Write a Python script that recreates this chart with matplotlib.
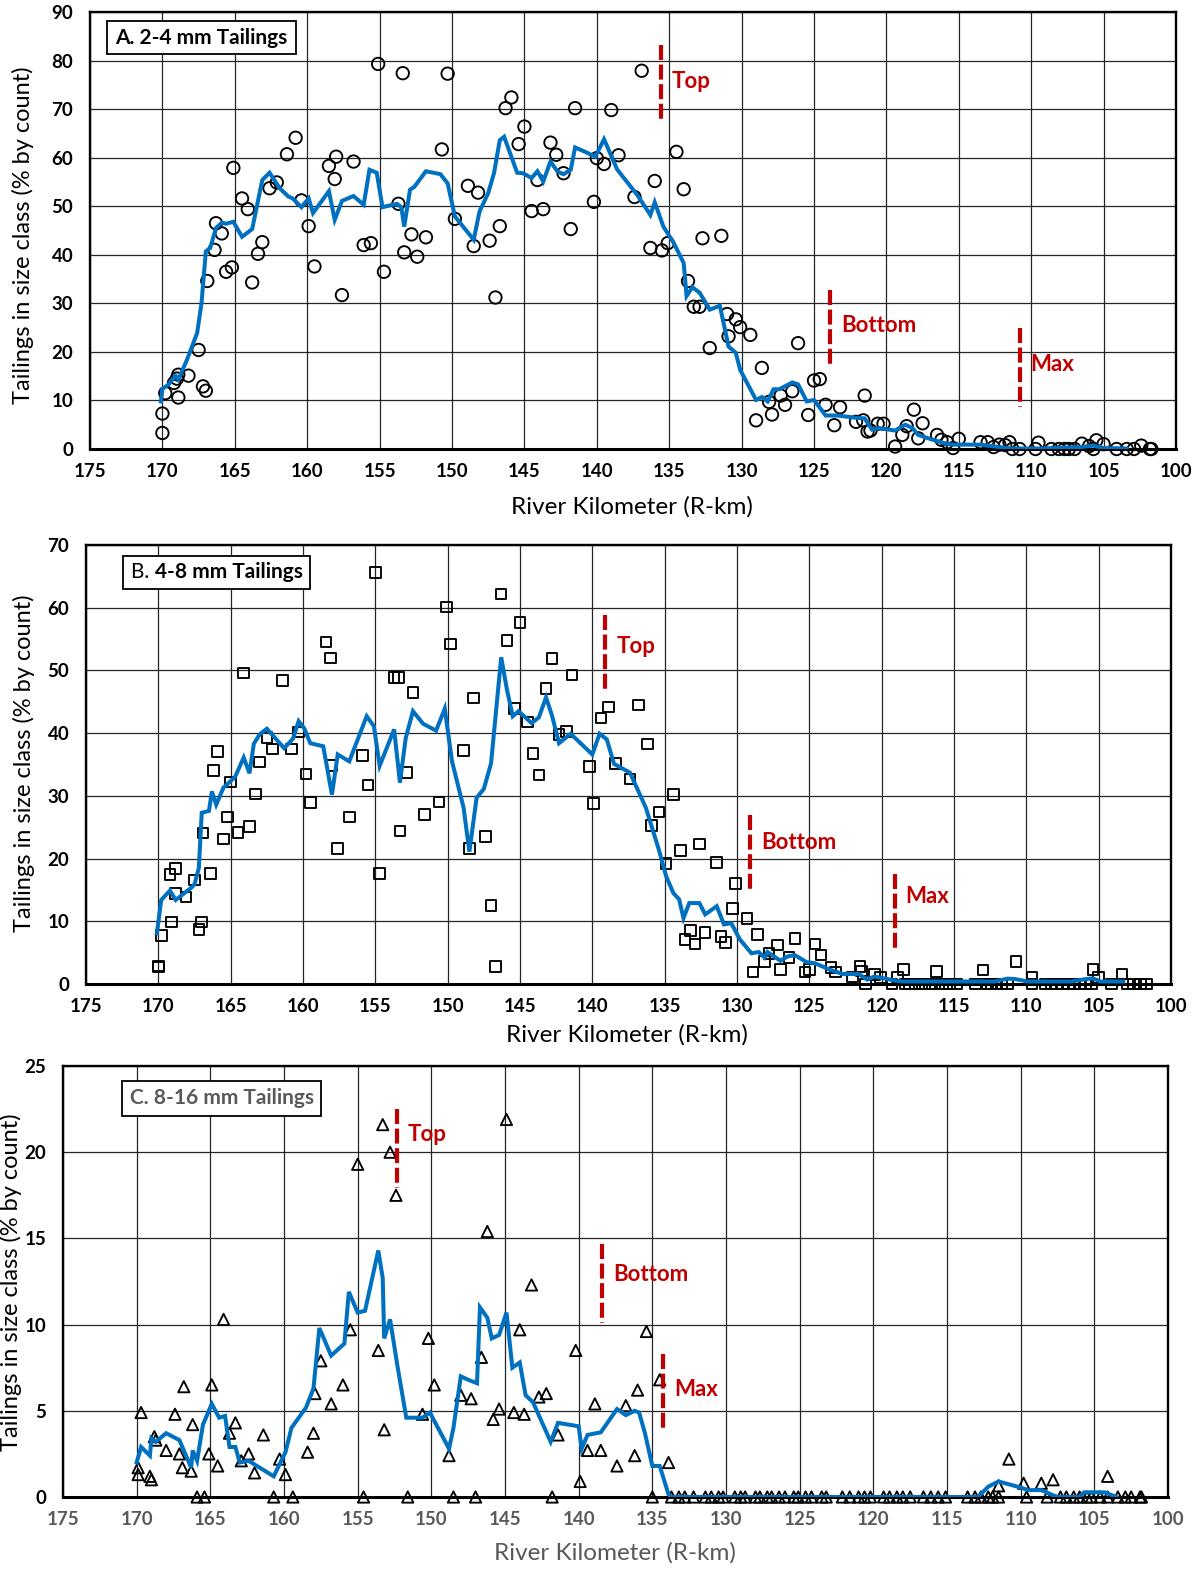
import matplotlib
matplotlib.use("Agg")
import matplotlib.pyplot as plt
from matplotlib.patches import Rectangle

plt.rcParams['font.family'] = ['Lato', 'DejaVu Sans']

# ---------------- data ----------------
x_ticks = [175, 170, 165, 160, 155, 150, 145, 140, 135, 130, 125, 120, 115, 110, 105, 100]
y_ticks_a = [0, 10, 20, 30, 40, 50, 60, 70, 80, 90]
y_ticks_b = [0, 10, 20, 30, 40, 50, 60, 70]
y_ticks_c = [0, 5, 10, 15, 20, 25]

# Panel A: 2-4 mm tailings (points)
km_a = [170.0, 170.0, 169.8, 169.2, 169.0, 168.9, 168.9, 168.2, 167.5, 167.2, 167.0, 166.9, 166.4,
        166.3, 165.9, 165.6, 165.2, 165.1, 164.5, 164.1, 163.8, 163.4, 163.1, 162.6, 162.1, 161.4,
        160.8, 160.4, 159.9, 159.5, 158.5, 158.1, 158.0, 157.6, 156.8, 156.1, 155.6, 155.1, 154.7,
        153.7, 153.4, 153.3, 152.8, 152.4, 151.8, 150.7, 150.3, 149.8, 148.9, 148.5, 148.2, 147.4,
        147.0, 146.7, 146.3, 145.9, 145.4, 145.0, 144.5, 144.1, 143.7, 143.2, 142.8, 142.3, 141.8,
        141.5, 140.2, 140.0, 139.5, 139.0, 138.5, 137.4, 136.9, 136.3, 136.0, 135.5, 135.1, 134.5,
        134.0, 133.7, 133.3, 132.9, 132.7, 132.2, 131.4, 131.0, 130.9, 130.4, 130.1, 129.4, 129.0,
        128.6, 128.1, 127.9, 127.3, 127.0, 126.5, 126.1, 125.4, 125.0, 124.6, 124.2, 123.6, 123.2,
        122.1, 121.6, 121.5, 121.3, 121.1, 120.6, 120.2, 119.4, 118.9, 118.6, 118.1, 117.8, 117.5,
        116.5, 116.2, 115.8, 115.4, 115.0, 113.5, 113.0, 112.6, 112.2, 111.8, 111.5, 111.3, 110.8,
        109.7, 109.5, 108.6, 108.1, 107.7, 107.4, 107.0, 106.5, 106.0, 105.7, 105.5, 105.0, 104.1,
        103.4, 102.9, 102.4, 101.8, 101.7]
pct_a = [3.3, 7.3, 11.5, 13.6, 14.5, 15.3, 10.6, 15.1, 20.4, 12.9, 12.0, 34.6, 41.0,
         46.5, 44.4, 36.5, 37.4, 57.9, 51.6, 49.4, 34.3, 40.2, 42.6, 53.7, 54.9, 60.7,
         64.1, 51.2, 45.9, 37.6, 58.3, 55.6, 60.2, 31.7, 59.2, 42.0, 42.4, 79.3, 36.5,
         50.5, 77.4, 40.5, 44.2, 39.6, 43.6, 61.7, 77.3, 47.4, 54.2, 41.8, 52.8, 42.9,
         31.2, 45.9, 70.2, 72.4, 62.8, 66.4, 49.0, 55.4, 49.4, 63.1, 60.6, 56.8, 45.3,
         70.2, 50.9, 59.9, 58.7, 69.8, 60.5, 51.9, 77.9, 41.4, 55.2, 40.9, 42.4, 61.2,
         53.5, 34.6, 29.3, 29.3, 43.4, 20.8, 43.9, 27.8, 23.2, 26.7, 25.1, 23.5, 5.9,
         16.7, 9.7, 7.1, 11.0, 9.1, 11.9, 21.8, 7.0, 14.1, 14.4, 9.1, 4.9, 8.6,
         5.6, 5.9, 11.0, 3.6, 3.8, 5.2, 5.2, 0.5, 2.9, 4.7, 8.1, 2.2, 5.3,
         2.9, 1.9, 1.4, 0.2, 2.1, 1.4, 1.4, 0.4, 0.9, 0.8, 1.4, 0.0, 0.0,
         0.0, 1.3, 0.0, 0.0, 0.0, 0.0, 0.0, 1.1, 0.6, 0.0, 1.8, 1.0, 0.0,
         0.0, 0.0, 0.7, 0.0, 0.0]
# Panel A moving average line
line_km_a = [170.1, 170.0, 169.6, 169.1, 168.9, 168.3, 167.6, 167.3, 167.0, 166.7, 166.3, 165.9,
             165.6, 165.1, 164.5, 163.8, 163.1, 162.6, 161.9, 161.3, 161.0, 160.4, 159.9, 159.6,
             158.5, 158.1, 157.6, 156.8, 156.1, 155.7, 155.2, 154.8, 153.8, 153.5, 153.3, 152.9,
             152.6, 151.8, 150.8, 150.3, 149.8, 148.5, 148.1, 147.5, 147.1, 146.7, 146.4, 145.5,
             145.1, 144.5, 144.1, 143.7, 143.2, 142.7, 142.3, 141.8, 141.5, 140.8, 140.1, 139.5,
             138.6, 137.2, 136.3, 136.0, 135.4, 134.7, 134.0, 133.8, 133.4, 132.9, 132.2, 131.5,
             130.9, 130.4, 130.1, 129.0, 128.6, 128.2, 127.8, 127.4, 126.5, 126.1, 125.5, 125.0,
             124.2, 123.4, 122.0, 121.5, 121.0, 120.5, 119.4, 118.7, 118.2, 117.8, 116.7, 116.0,
             115.4, 113.5, 112.2, 111.3, 109.4, 106.6, 105.7, 105.0, 103.4]
line_pct_a = [9.8, 12.4, 13.2, 15.1, 14.3, 18.4, 23.9, 30.0, 40.7, 41.4, 45.5, 46.6,
              46.4, 46.8, 43.7, 45.3, 55.4, 56.9, 53.7, 52.0, 51.6, 49.8, 51.6, 48.6,
              53.1, 47.2, 51.1, 52.1, 50.3, 57.5, 56.9, 49.8, 50.5, 49.8, 45.8, 53.4,
              54.0, 57.2, 56.6, 54.7, 47.9, 43.1, 48.9, 52.7, 56.8, 63.6, 64.3, 56.9,
              56.8, 55.8, 57.2, 55.1, 59.2, 57.1, 56.6, 57.5, 62.1, 61.2, 60.2, 63.8,
              57.6, 52.3, 48.2, 50.8, 45.8, 42.5, 38.3, 31.5, 33.3, 32.2, 28.7, 29.5,
              21.1, 19.8, 16.3, 10.1, 10.7, 9.8, 12.3, 12.3, 13.7, 13.3, 9.8, 10.1,
              6.9, 6.9, 6.4, 6.3, 4.0, 4.3, 3.8, 5.0, 4.3, 2.9, 1.8, 1.2,
              0.9, 0.9, 0.4, 0.1, 0.1, 0.4, 0.7, 0.2, 0.1]

# Panel B: 4-8 mm tailings (points)
km_b = [170.0, 170.0, 169.8, 169.1, 169.2, 168.8, 168.8, 168.1, 167.5, 167.2, 167.0, 166.9, 166.4,
        166.2, 165.9, 165.5, 165.2, 165.0, 164.5, 164.1, 163.7, 163.3, 163.0, 162.5, 162.1, 161.4,
        160.8, 160.3, 159.8, 159.5, 158.4, 158.1, 158.0, 157.6, 156.8, 155.9, 155.5, 155.0, 154.7,
        153.7, 153.4, 153.3, 152.8, 152.4, 151.6, 150.6, 150.1, 149.8, 148.9, 148.5, 148.2, 147.4,
        147.0, 146.7, 146.3, 145.9, 145.4, 145.0, 144.5, 144.1, 143.7, 143.2, 142.8, 142.3, 141.8,
        141.4, 140.2, 139.9, 139.4, 138.9, 138.4, 137.4, 136.8, 136.2, 135.9, 135.4, 134.9, 134.4,
        133.9, 133.6, 133.2, 132.9, 132.6, 132.2, 131.4, 131.1, 130.8, 130.3, 130.1, 129.3, 128.9,
        128.6, 128.1, 127.8, 127.2, 127.0, 126.4, 126.0, 125.3, 125.0, 124.6, 124.2, 123.5, 123.2,
        122.0, 121.5, 121.4, 121.1, 120.5, 120.1, 119.3, 118.9, 118.5, 118.4, 118.1, 117.7, 117.2,
        116.7, 116.3, 116.2, 115.8, 115.3, 114.8, 113.5, 113.0, 112.7, 112.4, 112.1, 111.7, 111.3,
        110.7, 109.6, 109.6, 108.7, 108.3, 107.9, 107.5, 107.1, 106.7, 106.3, 105.9, 105.5, 105.4,
        105.0, 104.1, 103.4, 103.0, 102.6, 102.1, 101.7]
pct_b = [2.7, 2.9, 7.7, 9.9, 17.5, 18.4, 14.4, 13.9, 16.6, 8.7, 9.9, 24.1, 17.6,
         34.0, 37.1, 23.1, 26.6, 32.2, 24.2, 49.6, 25.1, 30.3, 35.4, 39.3, 37.5, 48.4,
         37.5, 40.2, 33.5, 28.9, 54.5, 52.0, 34.8, 21.6, 26.6, 36.4, 31.7, 65.6, 17.6,
         48.9, 48.9, 24.4, 33.7, 46.5, 27.0, 29.0, 60.1, 54.2, 37.2, 21.6, 45.6, 23.5,
         12.5, 2.8, 62.2, 54.8, 43.9, 57.6, 41.8, 36.8, 33.3, 47.1, 51.9, 39.8, 40.3,
         49.3, 34.7, 28.8, 42.4, 44.2, 35.2, 32.7, 44.5, 38.3, 25.3, 27.4, 19.2, 30.2,
         21.3, 7.1, 8.5, 6.4, 22.3, 8.2, 19.4, 7.6, 6.6, 12.0, 16.0, 10.4, 1.9,
         7.9, 3.6, 4.9, 6.2, 2.3, 4.2, 7.3, 1.9, 2.3, 6.4, 4.6, 2.6, 1.9,
         1.1, 2.8, 2.1, 0.0, 1.5, 1.0, 0.0, 1.1, 2.3, 0.0, 0.0, 0.0, 0.0,
         0.0, 0.0, 2.0, 0.0, 0.0, 0.0, 0.0, 2.2, 0.0, 0.0, 0.0, 0.0, 0.0,
         3.6, 1.0, 0.0, 0.0, 0.0, 0.0, 0.0, 0.0, 0.0, 0.0, 0.0, 0.0, 2.3,
         1.0, 0.0, 1.6, 0.0, 0.0, 0.0, 0.0]
line_km_b = [170.1, 169.8, 169.2, 168.8, 167.7, 167.5, 167.2, 167.0, 166.5, 166.3, 166.0, 165.5,
             164.7, 164.1, 163.7, 163.4, 163.0, 162.5, 161.3, 160.7, 160.3, 159.9, 159.5, 158.6,
             158.0, 157.6, 156.8, 155.6, 155.1, 154.7, 153.7, 153.3, 152.9, 152.4, 151.7, 150.8,
             150.2, 149.7, 148.9, 148.5, 148.0, 147.5, 147.0, 146.3, 145.9, 145.5, 145.1, 144.2,
             143.7, 143.2, 142.8, 142.3, 141.5, 140.0, 139.5, 139.0, 138.5, 137.4, 136.3, 135.4,
             134.9, 134.4, 134.0, 133.7, 133.3, 132.6, 132.2, 131.4, 130.9, 130.4, 129.8, 129.0,
             128.5, 128.1, 127.9, 127.0, 126.5, 126.0, 125.2, 124.6, 123.6, 122.7, 121.6, 121.0,
             120.5, 120.1, 119.2, 118.6, 112.2, 111.3, 110.8, 109.9, 106.9, 106.0, 105.4, 104.9,
             103.3]
line_pct_b = [8.1, 13.4, 14.9, 13.4, 15.4, 15.9, 18.5, 27.3, 27.6, 30.7, 28.6, 31.3,
              33.0, 36.1, 33.6, 38.3, 39.8, 40.7, 37.6, 39.1, 41.9, 40.7, 38.4, 37.9,
              30.2, 36.6, 35.5, 42.7, 41.1, 34.8, 40.6, 32.1, 39.2, 43.5, 41.5, 40.4,
              43.9, 35.5, 28.1, 21.1, 29.7, 31.1, 35.2, 52.1, 46.9, 42.7, 43.5, 41.6,
              42.5, 45.7, 42.9, 38.4, 39.9, 36.6, 39.9, 39.0, 35.1, 33.7, 28.1, 21.4,
              17.2, 14.5, 13.5, 10.5, 12.9, 12.9, 11.1, 12.4, 9.5, 9.7, 7.1, 4.9,
              5.1, 4.2, 5.1, 3.7, 4.4, 4.6, 3.5, 3.3, 2.3, 1.6, 1.6, 0.7,
              1.2, 1.0, 0.6, 0.4, 0.4, 0.85, 0.8, 0.4, 0.4, 0.75, 0.9, 0.4,
              0.4]

# Panel C: 8-16 mm tailings (points)
km_c = [169.9, 169.9, 169.7, 169.1, 169.0, 168.8, 168.7, 168.0, 167.4, 167.1, 166.9, 166.8, 166.3,
        166.2, 165.9, 165.4, 165.1, 164.9, 164.5, 164.1, 163.7, 163.3, 162.9, 162.4, 162.0, 161.4,
        160.7, 160.3, 159.9, 159.4, 158.4, 158.0, 157.9, 157.5, 156.8, 156.0, 155.5, 155.0, 154.6,
        153.6, 153.3, 153.2, 152.8, 152.4, 151.6, 150.6, 150.2, 149.8, 148.8, 148.5, 148.0, 147.3,
        147.0, 146.6, 146.2, 145.8, 145.4, 144.9, 144.4, 144.0, 143.7, 143.2, 142.7, 142.2, 141.8,
        141.4, 140.2, 139.9, 139.4, 138.9, 138.5, 137.4, 136.8, 136.2, 136.0, 135.4, 135.0, 134.5,
        133.9, 133.7, 133.2, 132.8, 132.2, 131.4, 131.0, 130.5, 130.2, 129.4, 129.0, 128.7, 128.0,
        127.7, 127.2, 126.9, 126.4, 126.0, 125.4, 125.1, 124.6, 124.2, 123.5, 123.2, 122.1, 121.6,
        121.0, 120.6, 120.2, 119.3, 118.9, 118.4, 118.0, 117.5, 116.6, 116.1, 115.6, 115.1, 113.6,
        113.1, 112.7, 112.2, 111.9, 111.5, 111.5, 110.8, 109.8, 109.6, 108.6, 108.2, 107.8, 107.3,
        106.9, 106.4, 106.0, 105.5, 105.2, 104.6, 104.1, 104.1, 103.4, 102.9, 102.5, 101.9, 101.8]
pct_c = [1.7, 1.3, 4.9, 1.2, 1.0, 3.5, 3.3, 2.7, 4.8, 2.5, 1.7, 6.4, 1.5,
         4.2, 0.0, 0.0, 2.5, 6.5, 1.8, 10.3, 3.7, 4.3, 2.1, 2.5, 1.4, 3.6,
         0.0, 2.2, 1.3, 0.0, 2.6, 3.7, 6.0, 7.9, 5.4, 6.5, 9.7, 19.3, 0.0,
         8.5, 21.6, 3.9, 20.0, 17.5, 0.0, 4.8, 9.2, 6.5, 2.4, 0.0, 5.9, 5.7,
         0.0, 8.1, 15.4, 4.5, 5.1, 21.9, 4.9, 9.7, 4.8, 12.3, 5.8, 6.0, 0.0,
         3.6, 8.5, 0.9, 2.7, 5.4, 2.7, 1.8, 5.3, 2.4, 6.2, 9.6, 0.0, 6.8,
         2.0, 0.0, 0.0, 0.0, 0.0, 0.0, 0.0, 0.0, 0.0, 0.0, 0.0, 0.0, 0.0,
         0.0, 0.0, 0.0, 0.0, 0.0, 0.0, 0.0, 0.0, 0.0, 0.0, 0.0, 0.0, 0.0,
         0.0, 0.0, 0.0, 0.0, 0.0, 0.0, 0.0, 0.0, 0.0, 0.0, 0.0, 0.0, 0.0,
         0.0, 0.0, 0.0, 0.0, 0.0, 0.65, 2.2, 0.8, 0.0, 0.8, 0.0, 1.0, 0.0,
         0.0, 0.0, 0.0, 0.0, 0.0, 0.0, 1.2, 0.0, 0.0, 0.0, 0.0, 0.0, 0.0]
line_km_c = [170.0, 169.7, 169.1, 169.0, 168.7, 168.0, 167.1, 166.3, 166.2, 165.9, 165.5, 164.9,
             164.4, 164.0, 163.7, 163.3, 163.0, 162.4, 160.7, 159.9, 159.5, 158.5, 158.0, 157.6,
             156.8, 155.9, 155.6, 155.0, 154.5, 153.6, 153.3, 153.2, 152.8, 152.3, 151.7, 150.6,
             150.1, 148.8, 148.5, 148.0, 147.5, 146.9, 146.7, 146.2, 145.9, 145.4, 144.9, 144.5,
             144.0, 143.6, 143.1, 141.9, 141.4, 140.0, 139.8, 139.4, 138.5, 137.4, 136.8, 136.2,
             135.9, 135.5, 135.0, 134.5, 133.9, 133.7, 112.9, 112.2, 111.5, 110.0, 109.5, 108.6,
             107.8, 107.5, 106.0, 105.7, 104.3, 103.5]
line_pct_c = [2.0, 2.9, 2.4, 3.4, 3.2, 3.7, 3.3, 1.7, 2.7, 2.1, 4.2, 5.4,
              4.6, 4.7, 2.9, 2.9, 2.0, 2.1, 1.2, 2.6, 4.0, 5.2, 6.3, 9.8,
              8.2, 8.9, 11.9, 10.7, 10.8, 14.3, 12.7, 9.2, 10.3, 7.6, 4.6, 4.6,
              4.9, 2.8, 4.0, 7.0, 6.8, 6.6, 11.0, 10.4, 9.2, 9.4, 10.7, 7.5,
              7.8, 5.9, 5.5, 3.2, 4.3, 4.1, 2.8, 3.6, 3.75, 5.1, 4.75, 5.0,
              4.9, 3.7, 1.8, 1.8, 0.15, 0.0, 0.0, 0.6, 0.9, 0.55, 0.4, 0.4,
              0.1, 0.0, 0.0, 0.27, 0.27, 0.0]

# Reference markers (R-km) for each panel: Top, Bottom, Max
marker_names = ["Top", "Bottom", "Max"]
marker_km_a = [135.6, 123.9, 110.8]
marker_km_b = [139.1, 129.1, 119.1]
marker_km_c = [152.35, 138.4, 134.25]

# ---------------- styling ----------------
W, H = 1204, 1570
fig = plt.figure(figsize=(W / 100, H / 100), dpi=100)
BLUE = "#0070C0"
RED = "#C00000"
GRAY = "#595959"
TICK_FS = 13.5
LAB_FS = 17
BOX_FS = 15
RED_FS = 16


def px_axes(l, t, r, b):
    return fig.add_axes([l / W, 1 - b / H, (r - l) / W, (b - t) / H])


def style_axes(ax, yticks, tick_color="black"):
    ax.set_xlim(175, 100)
    ax.set_ylim(yticks[0], yticks[-1])
    ax.set_xticks(x_ticks)
    ax.set_xticklabels([str(t) for t in x_ticks], fontweight="bold", fontsize=TICK_FS, color=tick_color)
    ax.set_yticks(yticks)
    ax.set_yticklabels([str(t) for t in yticks], fontweight="bold", fontsize=TICK_FS)
    ax.tick_params(axis="x", length=0, pad=10)
    ax.tick_params(axis="y", length=0, pad=12)
    ax.grid(True, color="#262626", lw=0.9)
    ax.set_axisbelow(True)
    for s in ax.spines.values():
        s.set_linewidth(1.7)
        s.set_color("black")
    ax.spines["bottom"].set_linewidth(2.2)


def red_markers(ax, kms, spans, label_pos):
    for km, (y0, y1), name, ly in zip(kms, spans, marker_names, label_pos):
        # drawn top-down so the short dash stub ends at the bottom
        ax.plot([km, km], [y1, y0], color=RED, lw=3.0, dashes=(3.6, 1.1), zorder=6,
                dash_capstyle="butt")
        ax.text(km - 0.75, ly, name, color=RED, fontsize=RED_FS, fontweight="bold",
                ha="left", va="center", zorder=7)


def draw_panel(ax, km, pct, lkm, lpct, marker, msize):
    ax.scatter(km, pct, s=msize, marker=marker, facecolors="none", edgecolors="black",
               linewidths=1.35, zorder=3, clip_on=False)
    ax.plot(lkm, lpct, color=BLUE, lw=2.9, zorder=4, solid_joinstyle="miter")


# Panel A
axA = px_axes(90, 12, 1176, 449)
style_axes(axA, y_ticks_a)
draw_panel(axA, km_a, pct_a, line_km_a, line_pct_a, "o", 80)
red_markers(axA, marker_km_a, [(67.6, 83.3), (16.7, 32.8), (8.6, 24.9)], [75.6, 25.4, 17.3])

# Panel B
axB = px_axes(86, 545, 1171, 984)
style_axes(axB, y_ticks_b)
draw_panel(axB, km_b, pct_b, line_km_b, line_pct_b, "s", 58)
red_markers(axB, marker_km_b, [(46.5, 58.9), (14.5, 26.9), (5.2, 17.5)], [53.8, 22.5, 14.0])

# Panel C
axC = px_axes(63, 1066, 1168, 1497)
style_axes(axC, y_ticks_c, tick_color=GRAY)
draw_panel(axC, km_c, pct_c, line_km_c, line_pct_c, "^", 66)
red_markers(axC, marker_km_c, [(17.9, 22.5), (10.1, 14.7), (3.8, 8.3)], [21.0, 12.9, 6.25])

# axis labels
ylab = "Tailings in size class (% by count)"
xlab = "River Kilometer (R-km)"
for (xc, yc), col in [((632, 507), "black"), ((627, 1035), "black"), ((615, 1553), GRAY)]:
    fig.text(xc / W, 1 - yc / H, xlab, fontsize=LAB_FS + 0.5, ha="center", va="center", color=col)
for (xc, yc) in [(23, 235), (24, 763), (11, 1282)]:
    fig.text(xc / W, 1 - yc / H, ylab, fontsize=LAB_FS, ha="center", va="center", rotation=90)


# Title boxes
def box(l, t, r, b):
    fig.patches.append(Rectangle((l / W, 1 - b / H), (r - l) / W, (b - t) / H,
                                 transform=fig.transFigure, fc="white", ec="black", lw=1.3, zorder=10))


box(107, 21, 296, 54)
fig.text(201.5 / W, 1 - 37.5 / H, "A. 2-4 mm Tailings", fontsize=BOX_FS, fontweight="bold",
         ha="center", va="center", zorder=11)
box(123, 556, 310, 589)
tB = fig.text(131 / W, 1 - 572.5 / H, "B. ", fontsize=BOX_FS, fontweight="normal",
              ha="left", va="center", zorder=11)
fig.canvas.draw()
bb = tB.get_window_extent()
fig.text(bb.x1 / W, 1 - 572.5 / H, "4-8 mm Tailings", fontsize=BOX_FS, fontweight="bold",
         ha="left", va="center", zorder=11)
box(122, 1081, 321, 1116)
fig.text(221.5 / W, 1 - 1098.5 / H, "C. 8-16 mm Tailings", fontsize=BOX_FS, fontweight="bold",
         color=GRAY, ha="center", va="center", zorder=11)

fig.savefig("out.png", dpi=100)
